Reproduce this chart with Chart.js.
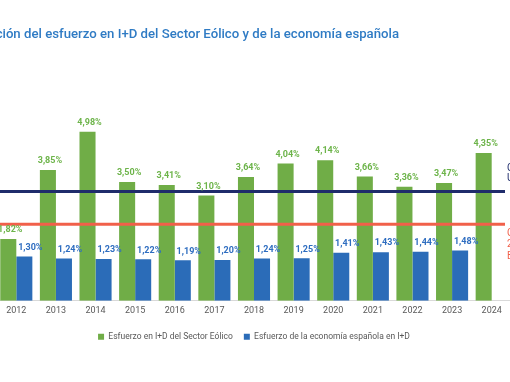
<!DOCTYPE html>
<html>
<head>
<meta charset="utf-8">
<script src="https://cdn.jsdelivr.net/npm/chart.js@4.4.1/dist/chart.umd.min.js"></script>
<style>
    html, body { margin: 0; padding: 0; background: #fff; overflow: hidden; }
    body { width: 510px; height: 382px; position: relative; }
    #chart { position: absolute; left: -30px; top: 0; }
</style>
</head>
<body>
<canvas id="chart" width="600" height="382"></canvas>
<script>
const years = ['2012', '2013', '2014', '2015', '2016', '2017', '2018', '2019', '2020', '2021', '2022', '2023', '2024'];
const eolico = [1.82, 3.85, 4.98, 3.50, 3.41, 3.10, 3.64, 4.04, 4.14, 3.66, 3.36, 3.47, 4.35];
const economia = [1.30, 1.24, 1.23, 1.22, 1.19, 1.20, 1.24, 1.25, 1.41, 1.43, 1.44, 1.48, null];

// reference lines, their labels are cut off at the right edge of the picture
const lineaAzul = 3.22;
const lineaRoja = 2.25;
const textoAzul = ['C', 'U'];
const textoRojo = ['C', '2', 'E'];

const titulo = 'Evolución del esfuerzo en I+D del Sector Eólico y de la economía española';

const verde = '#70AD47';
const azul = '#2B6CB8';
const marino = '#1F2C6B';
const rojo = '#F1604A';

const fmt = v => v.toFixed(2).replace('.', ',') + '%';

const extras = {
    id: 'extras',
    afterDatasetsDraw(chart) {
        const ctx = chart.ctx;
        const y = chart.scales.y;

        // horizontal lines
        [[lineaAzul, marino], [lineaRoja, rojo]].forEach(([v, c]) => {
            const py = y.getPixelForValue(v);
            ctx.save();
            ctx.strokeStyle = c;
            ctx.lineWidth = 3;
            ctx.beginPath();
            ctx.moveTo(0, py);
            ctx.lineTo(535, py);
            ctx.stroke();
            ctx.restore();
        });

        // value labels
        ctx.save();
        ctx.font = 'bold 9px Roboto';
        ctx.textAlign = 'center';
        ctx.textBaseline = 'middle';
        chart.data.datasets.forEach((ds, i) => {
            const meta = chart.getDatasetMeta(i);
            meta.data.forEach((bar, j) => {
                const v = ds.data[j];
                if (v == null) return;
                ctx.fillStyle = i === 0 ? '#6DB44A' : '#2E6DC0';
                ctx.fillText(fmt(v), bar.x + (i === 0 ? 2 : 6), bar.y - 9);
            });
        });
        ctx.restore();

        // line labels
        ctx.save();
        ctx.font = '10px Roboto';
        ctx.textAlign = 'left';
        ctx.textBaseline = 'middle';
        ctx.fillStyle = marino;
        textoAzul.forEach((t, k) => ctx.fillText(t, 537, 168 + k * 10));
        ctx.fillStyle = rojo;
        textoRojo.forEach((t, k) => ctx.fillText(t, 537, 233 + k * 11.5));
        ctx.restore();

        // title
        ctx.save();
        ctx.font = '500 13.2px Roboto';
        ctx.fillStyle = '#2F7BC4';
        ctx.textAlign = 'right';
        ctx.textBaseline = 'middle';
        ctx.fillText(titulo, 429, 35);
        ctx.restore();
    }
};

new Chart(document.getElementById('chart'), {
    type: 'bar',
    data: {
        labels: years,
        datasets: [{
            label: 'Esfuerzo en I+D del Sector Eólico',
            data: eolico,
            backgroundColor: verde,
            categoryPercentage: 0.81,
            barPercentage: 1.0
        }, {
            label: 'Esfuerzo de la economía española en I+D',
            data: economia,
            backgroundColor: azul,
            categoryPercentage: 0.81,
            barPercentage: 1.0
        }]
    },
    options: {
        responsive: false,
        animation: false,
        devicePixelRatio: 1,
        layout: {
            padding: { left: 26.5, right: 58.5, top: 97, bottom: 31 }
        },
        scales: {
            y: {
                display: false,
                min: 0,
                max: 6
            },
            x: {
                grid: { display: false, drawTicks: false },
                border: { display: true, color: '#D9D9D9' },
                ticks: {
                    color: '#595959',
                    font: { family: 'Roboto', size: 9 },
                    padding: 5,
                    maxRotation: 0,
                    autoSkip: false
                }
            }
        },
        plugins: {
            legend: {
                position: 'bottom',
                labels: {
                    boxWidth: 6,
                    boxHeight: 6,
                    padding: 11,
                    color: '#595959',
                    font: { family: 'Roboto', size: 8.5 }
                }
            },
            tooltip: { enabled: false }
        }
    },
    plugins: [extras]
});
</script>
</body>
</html>
